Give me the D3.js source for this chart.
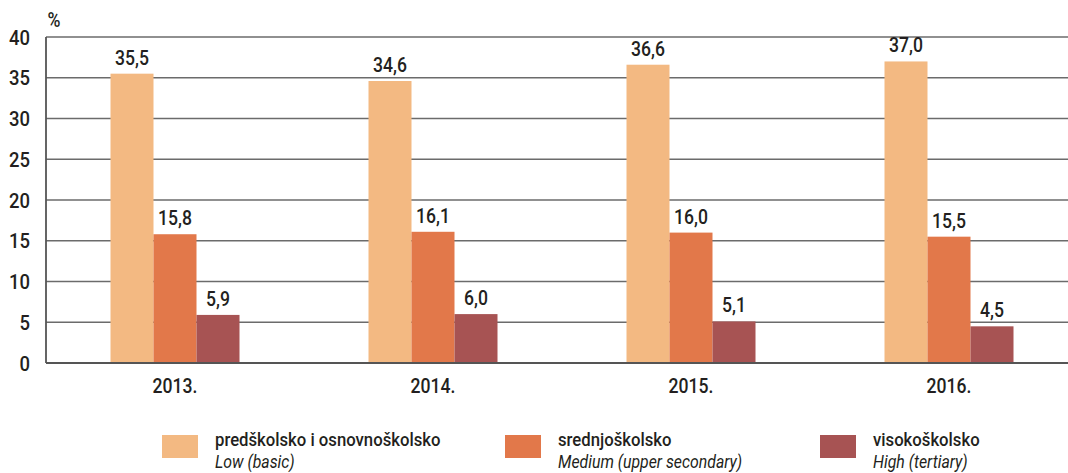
<!DOCTYPE html>
<html>
<head>
<meta charset="utf-8">
<script src="https://cdn.jsdelivr.net/npm/d3@7"></script>
<style>
  html, body { margin:0; padding:0; background:#fff; }
  svg { display:block; }
</style>
</head>
<body>
<div id="chart"></div>
<script>
// --- data ---------------------------------------------------------
const years    = ["2013.", "2014.", "2015.", "2016."];
const seriesHr = ["predškolsko i osnovnoškolsko", "srednjoškolsko", "visokoškolsko"];
const seriesEn = ["Low (basic)", "Medium (upper secondary)", "High (tertiary)"];
const low      = [35.5, 34.6, 36.6, 37.0];
const medium   = [15.8, 16.1, 16.0, 15.5];
const high     = [5.9, 6.0, 5.1, 4.5];
const yTicks   = [0, 5, 10, 15, 20, 25, 30, 35, 40];
const colors   = ["#f3b982", "#e2784a", "#a75353"];

const W = 1068, H = 473;
const margin = { top:37, right:0, bottom:110, left:46 };
const font = "'Roboto', 'Liberation Sans', sans-serif";
const SX = 0.88; // squeeze text horizontally, the original uses a condensed face

const values = [low, medium, high];
const rows = years.flatMap((yr, i) => values.map((v, s) => ({ yr, s, v: v[i] })));

const x0 = d3.scaleBand().domain(years).range([margin.left, 1078]).paddingInner(0.5).paddingOuter(0.25);
const x1 = d3.scaleBand().domain(d3.range(3)).range([0, x0.bandwidth()]);
const y  = d3.scaleLinear().domain([0, 40]).range([H - margin.bottom, margin.top]);

const svg = d3.select("#chart").append("svg")
  .attr("width", W).attr("height", H)
  .attr("font-family", font);

const at = (x, yy) => `translate(${x},${yy}) scale(${SX},1)`;

// gridlines
svg.append("g").selectAll("line")
  .data(yTicks.filter(t => t > 0))
  .join("line")
    .attr("x1", margin.left).attr("x2", W)
    .attr("y1", d => y(d)).attr("y2", d => y(d))
    .attr("stroke", "#6b6b6b").attr("stroke-width", 1.3);

// y axis labels
svg.append("g").selectAll("text")
  .data(yTicks)
  .join("text")
    .attr("transform", d => at(30, y(d) + 7.5))
    .attr("text-anchor", "end")
    .attr("font-size", 21).attr("font-weight", 500).attr("fill", "#231f20")
    .text(d => d);

svg.append("text")
  .attr("transform", at(54, 27))
  .attr("text-anchor", "middle")
  .attr("font-size", 20).attr("font-weight", 500).attr("fill", "#231f20")
  .text("%");

// bars
svg.append("g").selectAll("rect")
  .data(rows)
  .join("rect")
    .attr("x", d => x0(d.yr) + x1(d.s))
    .attr("width", x1.bandwidth())
    .attr("y", d => y(d.v))
    .attr("height", d => y(0) - y(d.v))
    .attr("fill", d => colors[d.s]);

// value labels
svg.append("g").selectAll("text")
  .data(rows)
  .join("text")
    .attr("transform", d => at(x0(d.yr) + x1(d.s) + x1.bandwidth() / 2, y(d.v) - 9))
    .attr("text-anchor", "middle")
    .attr("font-size", 20).attr("font-weight", 500).attr("fill", "#231f20")
    .text(d => d.v.toFixed(1).replace(".", ","));

// axes lines
svg.append("line")
  .attr("x1", margin.left).attr("x2", W)
  .attr("y1", y(0)).attr("y2", y(0))
  .attr("stroke", "#555").attr("stroke-width", 1.8);
svg.append("line")
  .attr("x1", margin.left).attr("x2", margin.left)
  .attr("y1", y(40)).attr("y2", y(0))
  .attr("stroke", "#555").attr("stroke-width", 1.8);

// x labels
svg.append("g").selectAll("text")
  .data(years)
  .join("text")
    .attr("transform", d => at(x0(d) + x0.bandwidth() / 2, y(0) + 30))
    .attr("text-anchor", "middle")
    .attr("font-size", 20).attr("font-weight", 500).attr("fill", "#231f20")
    .text(d => d);

// legend
const legX = [162, 505, 820];
const leg = svg.append("g").selectAll("g")
  .data(d3.range(3))
  .join("g")
    .attr("transform", d => `translate(${legX[d]},435)`);
leg.append("rect")
  .attr("width", 36).attr("height", 23)
  .attr("fill", d => colors[d]);
leg.append("text")
  .attr("transform", at(53, 11))
  .attr("font-size", 19).attr("font-weight", 500).attr("fill", "#231f20")
  .text(d => seriesHr[d]);
leg.append("text")
  .attr("transform", at(53, 33))
  .attr("font-size", 18).attr("font-style", "italic").attr("fill", "#231f20")
  .text(d => seriesEn[d]);
</script>
</body>
</html>
